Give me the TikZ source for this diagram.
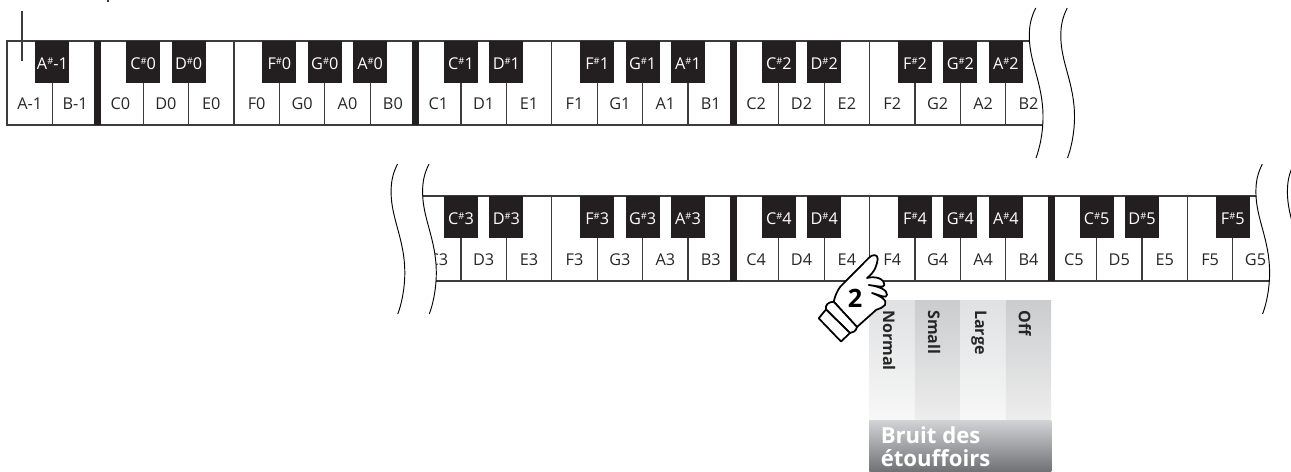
\documentclass[tikz,border=0pt]{standalone}
\usepackage{fontspec}
\setmainfont{Open Sans}
\usetikzlibrary{positioning}
\definecolor{keyblack}{RGB}{35,31,32}
\definecolor{keyline}{RGB}{60,60,60}
\definecolor{panellight}{RGB}{224,225,227}
\definecolor{paneldark}{RGB}{203,204,206}
\definecolor{headtop}{RGB}{210,211,213}
\definecolor{headbottom}{RGB}{112,113,117}
\newcommand{\sh}{\raisebox{3.6pt}{\fontsize{7}{8}\selectfont\#}}
\newcommand{\keyx}[1]{7+45.4*#1}
% one wavy break line, 150 units tall
\newcommand{\wavecut}[2]{(#1,#2) .. controls +(-5,10) and +(0,-10) .. ++(-6.4,28) .. controls +(0,27) and +(0,-34) .. ++(13.7,81) .. controls +(0,16) and +(3.7,-10) .. ++(-7,41)}
\tikzset{
  whitelabel/.style={font=\fontsize{12.2}{14}\selectfont,text=black!85,inner sep=0pt},
  blackkey/.style={fill=keyblack,text=white,anchor=north,minimum width=25.5pt,minimum height=31pt,inner sep=0pt,text height=11pt,text depth=0pt,font=\fontsize{12.2}{14}\selectfont},
  keydiv/.style={keyline,line width=0.8pt},
  keyframe/.style={keyline,line width=1.2pt},
  keybar/.style={fill=keyblack,draw=none},
  wave/.style={black,line width=0.7pt},
  column/.style={draw=none,inner sep=0pt,anchor=north west,minimum width=34pt,minimum height=90pt},
  columntext/.style={rotate=-90,anchor=west,font=\fontsize{12}{14}\selectfont\bfseries,text=black!85,inner sep=0pt},
  headtext/.style={anchor=west,font=\fontsize{16.6}{18}\selectfont\bfseries,text=white,inner sep=0pt},
  hand/.style={fill=white,draw=black,line width=1.3pt,line join=round}
}
\begin{document}
\begin{tikzpicture}[x=0.75pt,y=-0.75pt]
  \useasboundingbox (0,0) rectangle (1291,471);
  % first row
  \begin{scope}
    \clip (0,0) -- \wavecut{1035.7}{8} -- (0,158) -- cycle;
    \draw[keyframe] (1100,41) -- (7,41) -- (7,125) -- (1100,125);
    \foreach \k in {1,3,4,5,6,7,8,10,11,12,13,14,15,17,18,19,20,21,22}
      \draw[keydiv] ({\keyx{\k}},41) -- ({\keyx{\k}},125);
    \foreach \k in {2,9,16}
      \fill[keybar] ({\keyx{\k}-3.5},41) rectangle ({\keyx{\k}+3.5},125);
    \foreach \k/\t in {0/A-1,1/B-1,2/C0,3/D0,4/E0,5/F0,6/G0,7/A0,8/B0,9/C1,10/D1,11/E1,12/F1,13/G1,14/A1,15/B1,16/C2,17/D2,18/E2,19/F2,20/G2,21/A2,22/B2}
      \node[whitelabel] (w\t) at ({\keyx{(\k+0.5)}},104) {\t};
    \foreach \k/\a/\b in {1/A/-1,3/C/0,4/D/0,6/F/0,7/G/0,8/A/0,10/C/1,11/D/1,13/F/1,14/G/1,15/A/1,17/C/2,18/D/2,20/F/2,21/G/2,22/A/2}
      \node[blackkey] (b\a\b) at ({\keyx{\k}},41) {\a\sh\b};
  \end{scope}
  \draw[wave] \wavecut{1035.7}{8};
  \draw[wave] \wavecut{1067.2}{8};
  % second row
  \begin{scope}
    \clip (1291,164) -- \wavecut{429}{164} -- (1291,314) -- cycle;
    \clip (0,164) -- \wavecut{1262.3}{164} -- (0,314) -- cycle;
    \draw[keyframe] (400,196) -- (1291,196) (400,280.7) -- (1291,280.7);
    \foreach \k in {10,11,12,13,14,15,17,18,19,20,21,22,24,25,26,27}
      \draw[keydiv] ({\keyx{\k}},196) -- ({\keyx{\k}},280.7);
    \foreach \k in {16,23}
      \fill[keybar] ({\keyx{\k}-3.5},196) rectangle ({\keyx{\k}+3.5},280.7);
    \foreach \k/\t in {9/C3,10/D3,11/E3,12/F3,13/G3,14/A3,15/B3,16/C4,17/D4,18/E4,19/F4,20/G4,21/A4,22/B4,23/C5,24/D5,25/E5,26/F5,27/G5}
      \node[whitelabel] (w\t) at ({\keyx{(\k+0.5)}},259.7) {\t};
    \foreach \k/\a/\b in {10/C/3,11/D/3,13/F/3,14/G/3,15/A/3,17/C/4,18/D/4,20/F/4,21/G/4,22/A/4,24/C/5,25/D/5,27/F/5}
      \node[blackkey] (b\a\b) at ({\keyx{\k}},196) {\a\sh\b};
  \end{scope}
  \draw[wave] \wavecut{397.5}{164};
  \draw[wave] \wavecut{429}{164};
  \draw[wave] \wavecut{1262.3}{164};
  \draw[wave] \wavecut{1293.8}{164};
  % marker line top left
  \coordinate (marktop) at (22,11);
  \coordinate (markend) at (22,61);
  \draw[keyline,line width=1pt] (marktop) -- (markend);
  \draw[keyline,line width=1pt] (108,0) -- (108,2);
  % panel
  \node[column,top color=panellight,bottom color=white!97!black] (colnormal) at (869,300) {};
  \node[column,top color=paneldark,bottom color=white!93!black] (colsmall) at (914.5,300) {};
  \node[column,top color=panellight,bottom color=white!97!black] (collarge) at (960,300) {};
  \node[column,top color=paneldark,bottom color=white!93!black] (coloff) at (1005.5,300) {};
  \node[column,minimum width=136.5pt,minimum height=38.5pt,top color=headtop,bottom color=headbottom] (head) at (869,420) {};
  \node[columntext] (tnormal) at (889,310) {Normal};
  \node[columntext] (tsmall) at (934,310) {Small};
  \node[columntext] (tlarge) at (979,310) {Large};
  \node[columntext] (toff) at (1025,310) {Off};
  \node[headtext] (tbruit) at (880.5,435) {Bruit des};
  \node[headtext] (tetouf) at (880.5,458) {étouffoirs};
  % hand
  \draw[hand] (833.7,301.7) .. controls (835,296) and (837,291) .. (840.3,286.7)
    -- (868.7,258)
    .. controls (872,254) and (878,254) .. (877.7,259)
    .. controls (877,265) and (875,272) .. (867,278)
    .. controls (875,276) and (884,278) .. (884.3,285)
    .. controls (884,288) and (877,286) .. (868.7,285)
    .. controls (878,286) and (888,290) .. (887,295)
    .. controls (886,299) and (880,295) .. (872,293)
    .. controls (880,296) and (888,300) .. (885,305)
    .. controls (883,308) and (880,308) .. (876,310)
    -- (857,327) -- cycle;
  \draw[hand] (826,309.5) .. controls (825,305) and (828,302) .. (833.7,301.7)
    -- (857,327) .. controls (856,331) and (853,333) .. (850,333) -- cycle;
  \draw[hand] (818.7,318.3) -- (826,309.5) -- (850,333) -- (841,341.5) -- cycle;
  \node[font=\fontsize{19}{20}\selectfont\bfseries,inner sep=0pt] (fingernum) at (855,298) {2};
\end{tikzpicture}
\end{document}
